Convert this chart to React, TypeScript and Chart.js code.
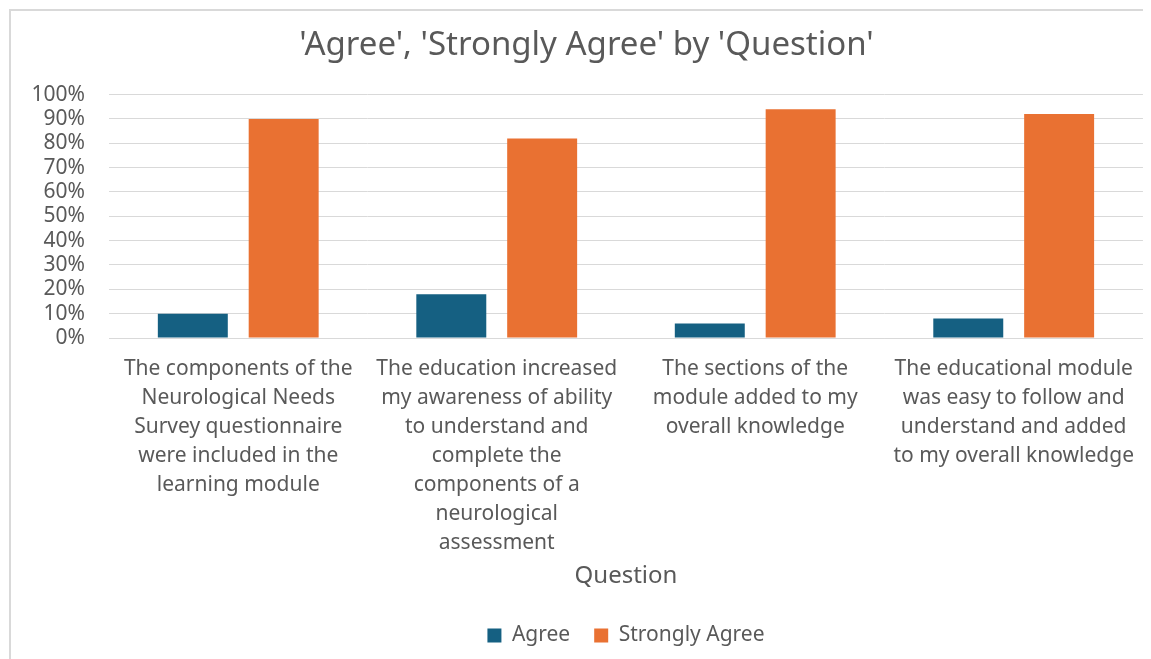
import React, { useEffect, useRef } from "react";
import { Chart, registerables } from "chart.js";

Chart.register(...registerables);

const categories: string[][] = [
  ["The components of the", "Neurological Needs", "Survey questionnaire", "were included in the", "learning module"],
  ["The education increased", "my awareness of ability", "to understand and", "complete the", "components of a", "neurological", "assessment"],
  ["The sections of the", "module added to my", "overall knowledge"],
  ["The educational module", "was easy to follow and", "understand and added", "to my overall knowledge"],
];
const agreeValues = [10, 18, 6, 8];
const stronglyAgreeValues = [90, 82, 94, 92];
const yTicks = [0, 10, 20, 30, 40, 50, 60, 70, 80, 90, 100];

const FONT = "'Noto Sans', 'Open Sans', sans-serif";
const TEXT = "#595959";

const legendShift = {
  id: "legendShift",
  afterLayout(chart: any) {
    const lg = chart.legend;
    if (!lg) return;
    const ca = chart.chartArea;
    const dx = (ca.left + ca.right) / 2 - (lg.left + lg.right) / 2;
    lg.left += dx;
    lg.right += dx;
    if (lg.legendHitBoxes) lg.legendHitBoxes.forEach((b: any) => (b.left += dx));
  },
};

export default function App() {
  const ref = useRef<HTMLCanvasElement | null>(null);
  useEffect(() => {
    if (!ref.current) return;
    const chart = new Chart(ref.current, {
      type: "bar",
      data: {
        labels: categories,
        datasets: [
          { label: "Agree", data: agreeValues, backgroundColor: "#156082", categoryPercentage: 0.703, barPercentage: 0.77 },
          { label: "Strongly Agree", data: stronglyAgreeValues, backgroundColor: "#E97132", categoryPercentage: 0.703, barPercentage: 0.77 },
        ],
      },
      plugins: [legendShift],
      options: {
        animation: false,
        responsive: true,
        maintainAspectRatio: false,
        layout: { padding: { left: 18, right: 8, top: 0, bottom: 4 } },
        plugins: {
          title: {
            display: true,
            text: "'Agree', 'Strongly Agree' by 'Question'",
            color: TEXT,
            font: { family: FONT, size: 33, weight: "normal" },
            padding: { top: 15, bottom: 29 },
          },
          legend: {
            position: "bottom",
            labels: {
              color: TEXT,
              font: { family: FONT, size: 21 },
              boxWidth: 14,
              boxHeight: 14,
              padding: 24,
            },
          },
          tooltip: { enabled: false },
        },
        scales: {
          x: {
            grid: { display: false, drawTicks: false },
            border: { display: true, color: "#d9d9d9" },
            afterFit: (axis: any) => {
              axis.height = 263;
            },
            ticks: {
              color: TEXT,
              font: { family: FONT, size: 21, lineHeight: 1.38 },
              maxRotation: 0,
              autoSkip: false,
              padding: 17,
            },
            title: {
              display: true,
              text: "Question",
              color: TEXT,
              font: { family: FONT, size: 24 },
              padding: { top: 4, bottom: 10 },
            },
          },
          y: {
            min: 0,
            max: 100,
            afterBuildTicks: (axis: any) => {
              axis.ticks = yTicks.map((v) => ({ value: v }));
            },
            afterFit: (axis: any) => {
              axis.width = 80;
            },
            grid: { color: "#d9d9d9", drawTicks: false },
            border: { display: false },
            ticks: {
              color: TEXT,
              font: { family: FONT, size: 21 },
              padding: 24,
              autoSkip: false,
              callback: (v: any) => v + "%",
            },
          },
        },
      },
    });
    return () => chart.destroy();
  }, []);
  return (
    <div
      style={{
        width: 1141,
        height: 649,
        marginLeft: 1,
        marginTop: 1,
        borderTop: "2px solid #d9d9d9",
        borderLeft: "2px solid #d9d9d9",
        position: "relative",
        background: "#fff",
      }}
    >
      <canvas ref={ref} />
    </div>
  );
}
